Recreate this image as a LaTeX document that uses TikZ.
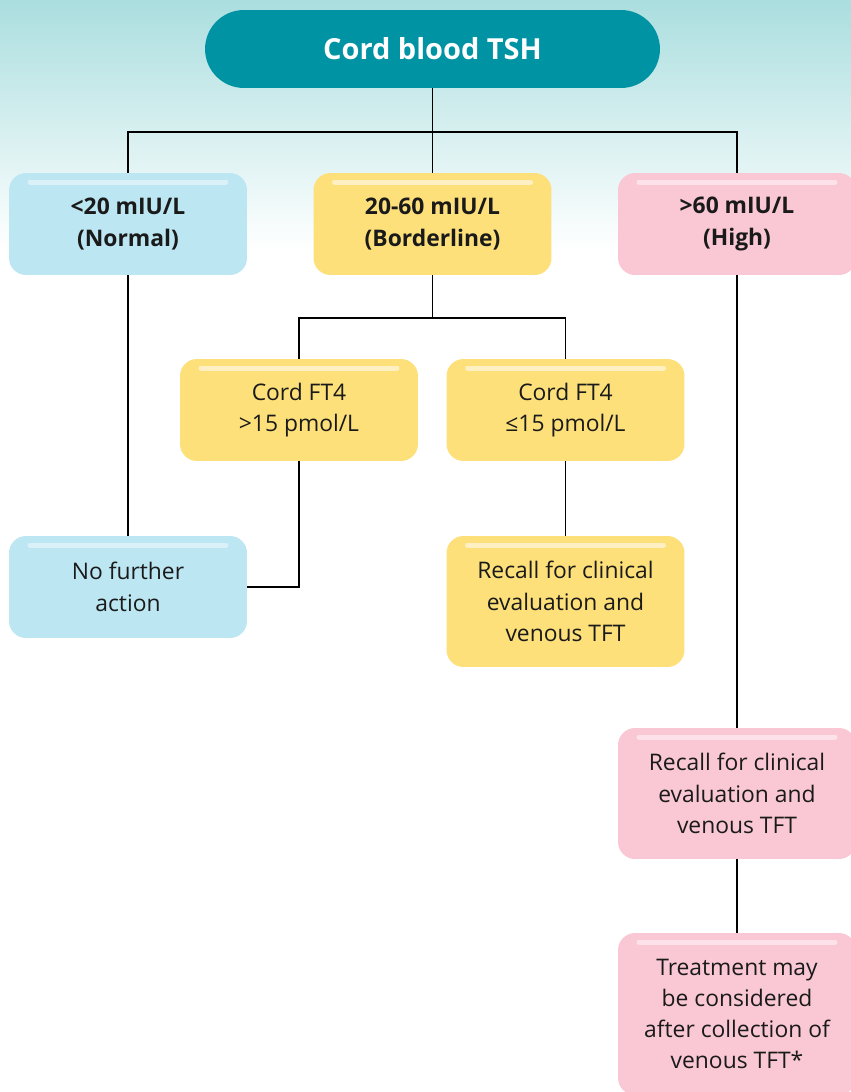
\documentclass[tikz,border=0pt]{standalone}
\usepackage{fontspec}
\setmainfont{Open Sans}
\definecolor{headteal}{HTML}{0093A4}
\definecolor{skyteal}{HTML}{ABDEDF}
\definecolor{bluebox}{HTML}{BDE6F3}
\definecolor{blueshine}{HTML}{DAF1F8}
\definecolor{yellowbox}{HTML}{FDE07A}
\definecolor{yellowshine}{HTML}{FEF0C2}
\definecolor{pinkbox}{HTML}{F9C8D4}
\definecolor{pinkshine}{HTML}{FDE2E9}
\definecolor{inktext}{HTML}{1A1A1A}
\begin{document}
\begin{tikzpicture}[x=0.02cm, y=-0.02cm,
	box/.style={rounded corners=0.34cm, minimum width=4.76cm, minimum height=2.04cm,
		align=center, text=inktext, inner sep=0pt,
		font={\fontsize{13}{17.8}\selectfont},
		path picture={\draw[line width=0.1cm, line cap=round, draw=#1]
			([xshift=0.42cm, yshift=-0.18cm]path picture bounding box.north west) --
			([xshift=-0.42cm, yshift=-0.18cm]path picture bounding box.north east);}},
	normalbox/.style={box=blueshine, fill=bluebox},
	borderbox/.style={box=yellowshine, fill=yellowbox},
	highbox/.style={box=pinkshine, fill=pinkbox},
	link/.style={line width=0.7pt, draw=black}]
\useasboundingbox (0,0) rectangle (851,1092);
\fill[white] (0,0) rectangle (851,1092);
\shade[top color=skyteal, bottom color=white] (0,0) rectangle (851,250);

\node[fill=headteal, rounded corners=0.78cm, minimum width=9.1cm, minimum height=1.56cm,
	text=white, font={\bfseries\fontsize{16.5}{19}\selectfont}] (tsh) at (432.5,49) {Cord blood TSH};

\node[normalbox, font={\bfseries\fontsize{13}{17.8}\selectfont}] (normal) at (128,224) {<20 mIU/L\\(Normal)};
\node[borderbox, font={\bfseries\fontsize{13}{17.8}\selectfont}] (border) at (432.5,224) {20-60 mIU/L\\(Borderline)};
\node[highbox, font={\bfseries\fontsize{13}{17.8}\selectfont}] (high) at (737,224) {>60 mIU/L\\(High)};

\node[borderbox] (ftfourhi) at (299,410) {Cord FT4\\>15 pmol/L};
\node[borderbox] (ftfourlo) at (565.5,410) {Cord FT4\\≤15 pmol/L};

\node[normalbox] (nofurther) at (128,587) {No further\\action};
\node[borderbox, minimum height=2.62cm] (recallyellow) at (565.5,601.5) {Recall for clinical\\evaluation and\\venous TFT};
\node[highbox, minimum height=2.62cm] (recallpink) at (737,793.5) {Recall for clinical\\evaluation and\\venous TFT};
\node[highbox, minimum height=3.24cm] (treatment) at (737,1014) {Treatment may\\be considered\\after collection of\\venous TFT*};

\coordinate (split) at (432.5,132);
\coordinate (bsplit) at (432.5,318);

\draw[link] (tsh) -- (split);
\draw[link] (normal.north) |- (split) -| (high.north);
\draw[link] (split) -- (border);
\draw[link] (border) -- (bsplit);
\draw[link] (ftfourhi.north) |- (bsplit) -| (ftfourlo.north);
\draw[link] (normal) -- (nofurther);
\draw[link] (ftfourhi.south) |- (nofurther.east);
\draw[link] (ftfourlo) -- (recallyellow);
\draw[link] (high) -- (recallpink);
\draw[link] (recallpink) -- (treatment);
\end{tikzpicture}
\end{document}
